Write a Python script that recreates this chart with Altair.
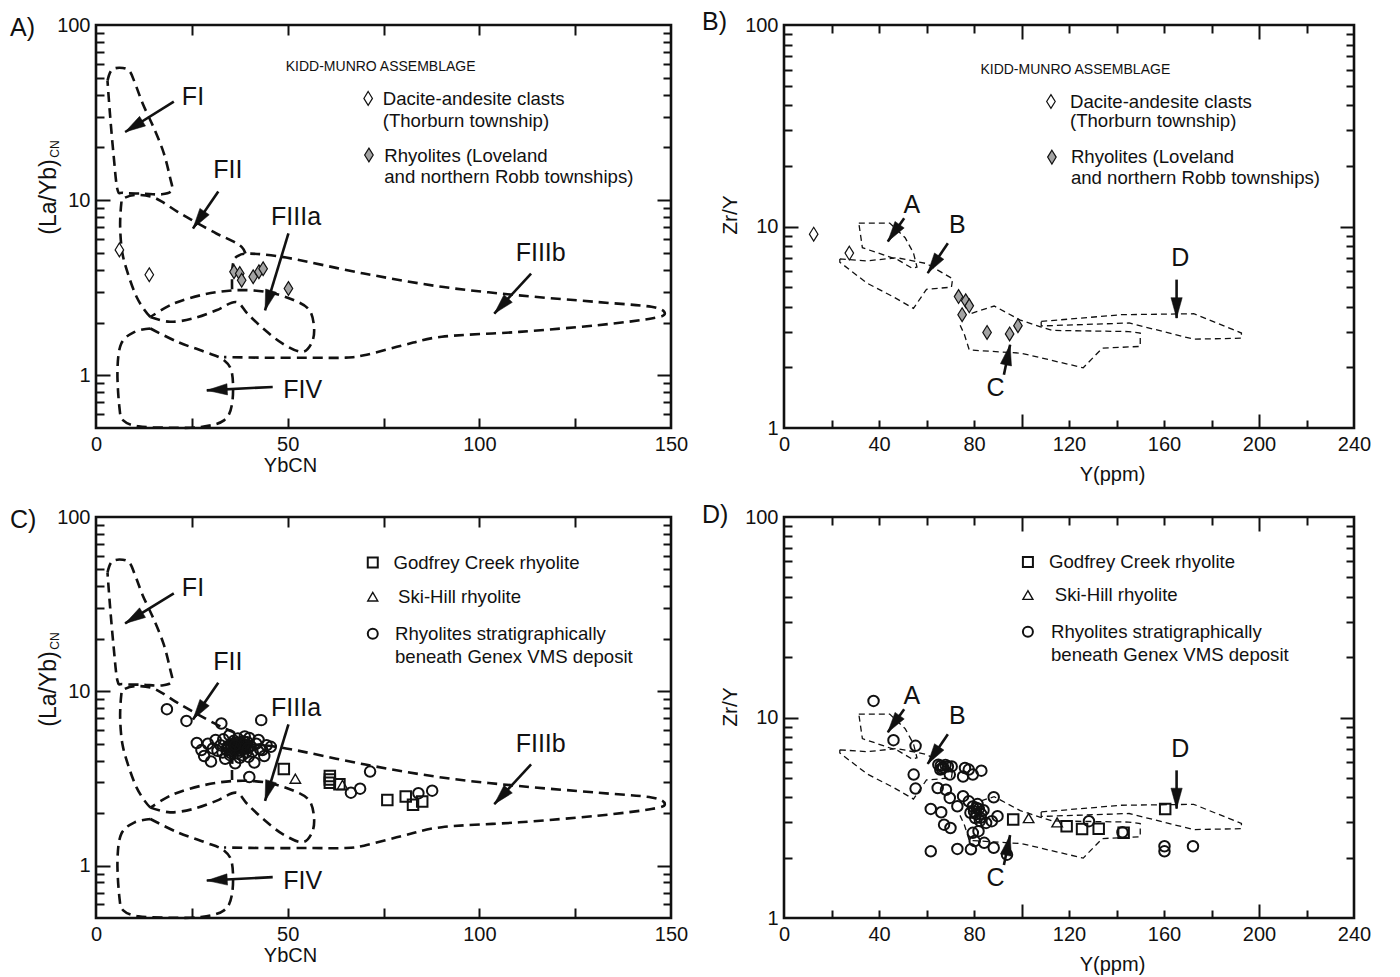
import math
import altair as alt
import pandas as pd

FONT = "Liberation Sans"
INK = "#111111"
GREY = "#a3a3a3"

# ================= DATA =================
# ---- (La/Yb)CN vs YbCN discrimination fields (panels A and C) ----
FI_X = [3.0, 4.0, 6.1, 8.6, 10.1, 12.2, 15.2, 17.7, 19.3, 19.8, 17.2, 12.2, 7.1, 5.6, 4.6, 3.7, 3.0]
FI_Y = [48, 55, 57, 55, 47, 35.5, 25.5, 18.5, 13.5, 11.4, 10.8, 10.9, 11.0, 11.5, 18, 30, 48]
FII_X = [39.0, 38.0, 35.5, 31.4, 26.3, 21.3, 17.2, 14.2, 10.1, 7.1, 6.6, 6.3, 6.9, 8.6, 10.6, 12.7, 14.2]
FII_Y = [4.96, 5.41, 5.86, 6.45, 7.42, 8.57, 9.8, 10.5, 10.7, 10.2, 9.57, 7.05, 4.96, 3.65, 2.80, 2.35, 2.15]
FIIIA_X = [14.2, 19.3, 25.3, 31.4, 36.5, 39.5, 43.6, 48.6, 53.7, 56.2, 56.9, 55.7, 51.7, 44.6, 36.5, 28.4, 20.3, 14.2]
FIIIA_Y = [2.15, 2.02, 2.11, 2.35, 2.62, 2.25, 1.85, 1.52, 1.36, 1.52, 1.85, 2.35, 2.68, 2.99, 3.06, 2.90, 2.57, 2.15]
FIIIB_X = [35.5, 35.5, 35.8, 36.8, 39.9, 49.6, 69.9, 90.2, 110.4, 130.7, 144.9, 148.4, 144.9, 130.7, 110.4,
           90.2, 80.0, 69.9, 64.8, 55.7, 44.6, 33.4]
FIIIB_Y = [3.10, 3.76, 4.40, 4.77, 4.95, 4.70, 3.81, 3.20, 2.86, 2.62, 2.46, 2.25, 2.11, 1.93, 1.77,
           1.66, 1.48, 1.30, 1.26, 1.26, 1.26, 1.27]
FIV_X = [14.2, 21.3, 28.4, 33.4, 35.5, 35.5, 33.4, 27.4, 19.3, 11.1, 7.1, 6.1, 5.6, 6.6, 10.1, 14.2]
FIV_Y = [1.85, 1.55, 1.36, 1.22, 1.02, 0.689, 0.553, 0.507, 0.502, 0.511, 0.553, 0.659, 1.07, 1.52, 1.77, 1.85]

# ---- Zr/Y vs Y fields (panels B and D) ----
FA_X = [31.5, 44.5, 51.0, 54.5, 56.0, 54.0, 48.0, 33.0, 31.5]
FA_Y = [10.4, 10.4, 8.8, 7.4, 6.3, 6.2, 6.83, 7.85, 10.4]
FB_X = [23.5, 35.0, 47.5, 60.0, 71.0, 70.5, 60.0, 54.5, 46.0, 35.0, 23.5, 23.5]
FB_Y = [6.9, 6.75, 7.0, 6.55, 5.5, 5.0, 4.88, 3.92, 4.48, 5.23, 6.65, 6.9]
FC_X = [79.0, 88.5, 99.5, 108.0, 113.0, 145.0, 150.0, 150.0, 134.0, 126.0, 100.0, 78.0, 76.0, 73.5]
FC_Y = [3.71, 4.03, 3.43, 3.18, 3.05, 3.01, 2.96, 2.54, 2.49, 1.99, 2.35, 2.44, 2.90, 3.37]
FD_X = [108.3, 142.0, 172.5, 192.6, 192.6, 172.5, 145.3, 108.3, 108.3]
FD_Y = [3.38, 3.65, 3.69, 2.96, 2.79, 2.76, 3.32, 3.21, 3.38]

# ---- arrows and field names ----
AC_ARROW_TX = [20.3, 31.9, 50.2, 113.5, 46.1]
AC_ARROW_TY = [36.5, 11.2, 6.45, 3.81, 0.858]
AC_ARROW_HX = [7.6, 25.3, 44.1, 103.9, 28.9]
AC_ARROW_HY = [24.5, 6.89, 2.35, 2.25, 0.82]
AC_NAMES = ["FI", "FII", "FIIIa", "FIIIb", "FIV"]
AC_NAME_X = [25.3, 34.4, 52.2, 116.0, 53.9]
AC_NAME_Y = [38.9, 14.8, 8.03, 4.96, 0.82]

BD_ARROW_TX = [50.6, 69.0, 92.6, 165.3]
BD_ARROW_TY = [11.0, 8.26, 1.84, 5.45]
BD_ARROW_HX = [43.7, 60.5, 95.2, 165.3]
BD_ARROW_HY = [8.43, 5.87, 2.59, 3.51]
BD_NAMES = ["A", "B", "C", "D"]
BD_NAME_X = [53.8, 73.0, 89.1, 166.9]
BD_NAME_Y = [12.8, 10.2, 1.58, 6.97]

# ---- samples, panel A (YbCN, (La/Yb)CN) ----
A_DACITE_X = [6.1, 13.9]
A_DACITE_Y = [5.2, 3.75]
A_RHYO_X = [36.0, 37.5, 38.0, 41.0, 42.5, 43.6, 50.2]
A_RHYO_Y = [3.9, 3.81, 3.49, 3.65, 3.9, 4.06, 3.13]

# ---- samples, panel B (Y ppm, Zr/Y) ----
B_DACITE_X = [12.5, 27.5]
B_DACITE_Y = [9.16, 7.38]
B_RHYO_X = [73.5, 76.5, 78.0, 75.0, 85.5, 95.0, 98.5]
B_RHYO_Y = [4.49, 4.28, 4.04, 3.65, 2.98, 2.93, 3.22]

# ---- samples, panel C ----
C_GODFREY_X = [49.0, 61.0, 61.0, 61.0, 63.5, 76.0, 80.8, 82.7, 85.1]
C_GODFREY_Y = [3.58, 3.26, 3.12, 2.99, 2.93, 2.38, 2.49, 2.23, 2.33]
C_SKIHILL_X = [52.0, 64.3]
C_SKIHILL_Y = [3.15, 2.90]
C_GENEX_X = [18.5, 23.6, 32.7, 43.1, 40.0, 71.5, 66.5, 68.9, 84.1, 87.7,
             26.3, 27.5, 28.2, 29.2, 30.0, 30.5, 31.2, 31.7, 32.5, 33.2,
             33.7, 34.0, 34.8, 35.3, 35.8, 36.3, 36.5, 37.0, 37.3, 37.8,
             38.2, 38.8, 39.0, 39.5, 39.8, 40.3, 40.8, 41.3, 41.8, 42.4,
             42.8, 43.4, 43.9, 44.5, 45.6, 36.0, 34.5, 38.5, 37.5, 35.0,
             40.0, 33.0, 36.8, 39.2,
             34.2, 35.2, 36.2, 37.2, 38.2, 39.2, 35.6, 36.6, 37.6, 38.6,
             36.9, 35.9, 37.9, 39.6, 34.9, 36.3]
C_GENEX_Y = [7.89, 6.76, 6.53, 6.83, 3.22, 3.46, 2.62, 2.76, 2.60, 2.69,
             5.05, 4.60, 4.25, 5.00, 3.95, 4.70, 5.25, 4.55, 4.90, 5.30,
             4.10, 4.60, 5.60, 4.40, 5.00, 3.86, 4.75, 5.35, 4.55, 4.90,
             4.30, 5.50, 4.70, 5.10, 4.20, 4.85, 4.50, 3.90, 5.00, 5.25,
             4.65, 4.60, 4.25, 4.90, 4.80, 5.20, 4.85, 5.15, 4.15, 4.30,
             5.40, 4.45, 4.95, 4.45,
             4.75, 4.95, 4.60, 4.85, 4.65, 4.90, 4.50, 5.05, 4.70, 4.95,
             4.40, 4.80, 5.05, 4.70, 4.60, 4.90]

# ---- samples, panel D ----
D_GODFREY_X = [96.5, 119.0, 125.5, 132.5, 143.0, 160.5]
D_GODFREY_Y = [3.10, 2.87, 2.78, 2.79, 2.66, 3.50]
D_SKIHILL_X = [103.0, 115.0]
D_SKIHILL_Y = [3.15, 3.00]
D_GENEX_X = [37.7, 46.1, 55.4, 54.6, 55.4, 65.0, 65.8, 69.0, 70.6, 69.8,
             76.2, 77.8, 75.4, 79.5, 83.1, 64.7, 68.2, 69.8, 75.4, 73.0,
             77.8, 61.8, 66.2, 67.4, 70.1, 88.3, 81.1, 82.7, 85.1, 87.5,
             89.9, 79.5, 81.9, 80.3, 84.3, 88.3, 93.9, 61.8, 73.0, 78.7,
             128.4, 142.5, 160.2, 160.2, 172.2, 80.0, 81.0, 82.0, 80.5, 83.0,
             79.5, 82.5, 81.5, 78.5, 84.0, 66.0, 67.0, 68.0, 66.5]
D_GENEX_Y = [12.1, 7.71, 7.22, 5.19, 4.42, 5.82, 5.50, 5.70, 5.70, 5.19,
             5.60, 5.50, 5.08, 5.19, 5.43, 4.45, 4.36, 3.97, 4.05, 3.61,
             3.82, 3.50, 3.37, 2.92, 2.81, 4.00, 3.54, 3.16, 2.98, 3.04,
             3.22, 2.66, 2.71, 2.42, 2.37, 2.24, 2.07, 2.15, 2.21, 2.20,
             3.04, 2.68, 2.28, 2.15, 2.28, 3.40, 3.30, 3.50, 3.15, 3.30,
             3.60, 3.05, 3.70, 3.35, 3.45, 5.75, 5.65, 5.80, 5.55]

# ---- legend texts ----
KM_TITLE = "KIDD-MUNRO ASSEMBLAGE"
KM_TEXT = ["Dacite-andesite clasts", "(Thorburn township)", "Rhyolites (Loveland", "and northern Robb townships)"]
GX_TEXT = ["Godfrey Creek rhyolite", "Ski-Hill rhyolite", "Rhyolites stratigraphically", "beneath Genex VMS deposit"]

# ---- axis tick values ----
AC_XLABELS = [0, 50, 100, 150]
AC_XTICKS = [25, 50, 75, 100, 125]
AC_YTICKS = [0.6, 0.7, 0.8, 0.9, 1, 2, 3, 4, 5, 6, 7, 8, 9, 10, 20, 30, 40, 50, 60, 70, 80, 90]
BD_XLABELS = [0, 40, 80, 120, 160, 200, 240]
BD_XTICKS = [20, 40, 60, 80, 100, 120, 140, 160, 180, 200, 220]
BD_YTICKS = [2, 3, 4, 5, 6, 7, 8, 9, 10, 20, 30, 40, 50, 60, 70, 80, 90]
Y_LABELS = [1, 10, 100]

# ================= BUILD =================
HEAD = "M0,0L0.55,2L-0.55,2Z"
DIAMOND = "M0,-1L0.62,0L0,1L-0.62,0Z"
LEG_FS = 18.6


def tick_size(majors, big, small):
    if not majors:
        return small
    test = " || ".join("datum.value == %s" % m for m in majors)
    return {"condition": {"test": test, "value": big}, "value": small}


def panel(p):
    W, H = p["W"], p["H"]
    (x0, x1), (y0, y1) = p["xdom"], p["ydom"]
    xs = alt.Scale(domain=[x0, x1], nice=False, zero=False)
    ys = alt.Scale(type="log", domain=[y0, y1], nice=False)

    xt = tick_size(p["xmajor"], 14, p["xsmall"])
    yt = tick_size(p["ymajor"], 14, 8)
    common = dict(labels=False, domain=False, grid=False, title=None, tickWidth=2, tickColor=INK)
    ax_x_b = alt.Axis(orient="top", offset=-H, values=p["xticks"], tickSize=xt, **common)
    ax_x_t = alt.Axis(orient="bottom", offset=-H, values=p["xticks"], tickSize=xt, **common)
    ax_y_l = alt.Axis(orient="right", offset=-W, values=p["yticks"], tickSize=yt, **common)
    ax_y_r = alt.Axis(orient="left", offset=-W, values=p["yticks"], tickSize=yt, **common)

    main_x = alt.Axis(orient="bottom", values=p["xlabels"], format="d", ticks=False, domain=False,
                      grid=False, labelFontSize=20, labelPadding=6, labelFlush=False,
                      title=p["xtitle"], titleFontSize=20, titleFontWeight="normal",
                      titleX=p["xtitle_x"], titleY=p["xtitle_y"], titleAlign="center",
                      titleBaseline="middle")
    main_y = alt.Axis(orient="left", values=Y_LABELS, format="d", ticks=False, domain=False,
                      grid=False, labelFontSize=20, labelPadding=6, labelFlush=False, title=None)

    X = lambda f, ax: alt.X(f, type="quantitative", scale=xs, axis=ax)
    Y = lambda f, ax: alt.Y(f, type="quantitative", scale=ys, axis=ax)

    layers = []
    rows = []
    for name, fx, fy in p["fields"]:
        for i, (a, b) in enumerate(zip(fx, fy)):
            rows.append({"f": name, "i": i, "x": a, "y": b})
    layers.append(
        alt.Chart(pd.DataFrame(rows)).mark_line(
            color=INK, strokeWidth=p["fw"], strokeDash=p["dash"], interpolate=p["interp"]
        ).encode(x=X("x", main_x), y=Y("y", main_y), detail="f:N", order="i:Q")
    )

    def to_px(x, y):
        return ((x - x0) / (x1 - x0) * W,
                H * (1 - (math.log10(y) - math.log10(y0)) / (math.log10(y1) - math.log10(y0))))

    tx, ty, hx, hy = p["arrows"]
    ang = []
    for a, b, c, d in zip(tx, ty, hx, hy):
        pa, pb = to_px(a, b)
        pc, pd_ = to_px(c, d)
        ang.append(math.degrees(math.atan2(pc - pa, -(pd_ - pb))) % 360)
    adf = pd.DataFrame({"x": tx, "y": ty, "x2": hx, "y2": hy, "ang": ang})
    layers.append(
        alt.Chart(adf).mark_rule(color=INK, strokeWidth=2.6).encode(
            x=X("x", ax_x_b), y=Y("y", ax_y_l), x2="x2:Q", y2="y2:Q")
    )
    layers.append(
        alt.Chart(adf).mark_point(shape=HEAD, size=p["head"], filled=True, fill=INK, stroke=INK,
                                  strokeWidth=0.5, opacity=1).encode(
            x=X("x2", ax_x_t), y=Y("y2", ax_y_r), angle=alt.Angle("ang:Q", scale=None))
    )

    nx, ny, nt = p["names"]
    layers.append(
        alt.Chart(pd.DataFrame({"x": nx, "y": ny, "t": nt})).mark_text(
            font=FONT, fontSize=p["name_size"], color=INK).encode(
            x=X("x", None), y=Y("y", None), text="t:N")
    )

    for sx, sy, shape, size, fill, sw in p["series"]:
        kw = dict(shape=shape, size=size, stroke=INK, strokeWidth=sw, opacity=1)
        if fill:
            kw.update(filled=True, fill=fill)
        else:
            kw.update(filled=False)
        layers.append(
            alt.Chart(pd.DataFrame({"x": sx, "y": sy})).mark_point(**kw).encode(
                x=X("x", None), y=Y("y", None))
        )

    # legend text
    lt, lx, ly, lsz = p["legend_text"]
    layers.append(
        alt.Chart(pd.DataFrame({"t": lt, "x": lx, "y": ly, "s": lsz})).mark_text(
            font=FONT, align="left", baseline="middle", color=INK).encode(
            x=X("x", None), y=Y("y", None), text="t:N", size=alt.Size("s:Q", scale=None))
    )

    # panel letter and rotated y-axis title (pixel offsets from plot origin)
    layers.append(
        alt.Chart(pd.DataFrame({"t": [p["letter"]]})).mark_text(
            font=FONT, fontSize=25, align="left", baseline="middle", color=INK).encode(
            text="t:N", x=alt.value(p["letter_pos"][0]), y=alt.value(p["letter_pos"][1]))
    )
    for t, dx, dy, fs in p["ytitle"]:
        layers.append(
            alt.Chart(pd.DataFrame({"t": [t]})).mark_text(
                font=FONT, fontSize=fs, angle=270, align="center", baseline="middle", color=INK).encode(
                text="t:N", x=alt.value(dx), y=alt.value(dy))
        )

    return alt.layer(*layers).resolve_axis(x="independent", y="independent").properties(width=W, height=H)


AC_FIELDS = [("FI", FI_X, FI_Y), ("FII", FII_X, FII_Y), ("FIIIa", FIIIA_X, FIIIA_Y),
             ("FIIIb", FIIIB_X, FIIIB_Y), ("FIV", FIV_X, FIV_Y)]
BD_FIELDS = [("A", FA_X, FA_Y), ("B", FB_X, FB_Y), ("C", FC_X, FC_Y), ("D", FD_X, FD_Y)]

base_AC = dict(xdom=[0, 150], ydom=[0.5, 100], xticks=AC_XTICKS, xmajor=[], xsmall=10,
               yticks=AC_YTICKS, ymajor=[1, 10], xlabels=AC_XLABELS, xtitle="YbCN",
               xtitle_x=194, xtitle_y=37, fields=AC_FIELDS, fw=2.6, dash=[10, 6], interp="cardinal",
               arrows=(AC_ARROW_TX, AC_ARROW_TY, AC_ARROW_HX, AC_ARROW_HY), head=420,
               names=(AC_NAME_X, AC_NAME_Y, AC_NAMES), name_size=25,
               ytitle=[("(La/Yb)", -47, 172, 23), ("CN", -41, 124, 12)])
base_BD = dict(xdom=[0, 240], ydom=[1, 100], xticks=BD_XTICKS, xmajor=[100, 200], xsmall=8,
               yticks=BD_YTICKS, ymajor=[10], xlabels=BD_XLABELS, xtitle="Y(ppm)",
               xtitle_x=328, xtitle_y=46, fields=BD_FIELDS, fw=1.3, dash=[6, 4], interp="linear",
               arrows=(BD_ARROW_TX, BD_ARROW_TY, BD_ARROW_HX, BD_ARROW_HY), head=420,
               names=(BD_NAME_X, BD_NAME_Y, BD_NAMES), name_size=25,
               ytitle=[("Zr/Y", -53, 190, 21)])

pA = panel(dict(base_AC, W=575, H=403, letter="A)", letter_pos=(-86, 3),
                series=[(A_DACITE_X, A_DACITE_Y, DIAMOND, 190, "white", 1.2),
                        (A_RHYO_X, A_RHYO_Y, DIAMOND, 190, GREY, 1.2),
                        ([71.0], [38.1], DIAMOND, 190, "white", 1.2),
                        ([71.2], [18.1], DIAMOND, 190, GREY, 1.2)],
                legend_text=([KM_TITLE] + KM_TEXT, [49.5, 74.8, 74.8, 75.2, 75.2],
                             [57.8, 37.6, 28.4, 17.8, 13.5], [14, LEG_FS, LEG_FS, LEG_FS, LEG_FS])))
pB = panel(dict(base_BD, W=570, H=403, letter="B)", letter_pos=(-82, -3),
                series=[(B_DACITE_X, B_DACITE_Y, DIAMOND, 190, "white", 1.2),
                        (B_RHYO_X, B_RHYO_Y, DIAMOND, 190, GREY, 1.2),
                        ([112.4], [41.7], DIAMOND, 190, "white", 1.2),
                        ([112.8], [22.1], DIAMOND, 190, GREY, 1.2)],
                legend_text=([KM_TITLE] + KM_TEXT, [82.7, 120.4, 120.4, 120.8, 120.8],
                             [59.8, 41.7, 33.2, 22.1, 17.4], [14, LEG_FS, LEG_FS, LEG_FS, LEG_FS])))
pC = panel(dict(base_AC, W=575, H=401, letter="C)", letter_pos=(-86, 3),
                series=[(C_GENEX_X, C_GENEX_Y, "circle", 110, None, 2),
                        (C_GODFREY_X, C_GODFREY_Y, "square", 110, None, 2),
                        (C_SKIHILL_X, C_SKIHILL_Y, "triangle-up", 110, None, 1.4),
                        ([72.2], [54.8], "square", 100, None, 2),
                        ([72.2], [34.9], "triangle-up", 100, None, 1.4),
                        ([72.2], [21.4], "circle", 100, None, 2)],
                legend_text=(GX_TEXT, [77.6, 78.8, 78.0, 78.0], [54.8, 34.9, 21.4, 15.7],
                             [LEG_FS] * 4)))
pD = panel(dict(base_BD, W=570, H=401, letter="D)", letter_pos=(-82, -2),
                series=[(D_GENEX_X, D_GENEX_Y, "circle", 110, None, 2),
                        (D_GODFREY_X, D_GODFREY_Y, "square", 110, None, 2),
                        (D_SKIHILL_X, D_SKIHILL_Y, "triangle-up", 110, None, 1.4),
                        ([102.7], [59.7], "square", 100, None, 2),
                        ([102.7], [40.8], "triangle-up", 100, None, 1.4),
                        ([102.7], [26.8], "circle", 100, None, 2)],
                legend_text=(GX_TEXT, [111.6, 114.0, 112.4, 112.4], [59.7, 40.8, 26.8, 20.5],
                             [LEG_FS] * 4)))

chart = alt.concat(pA, pB, pC, pD, columns=2, spacing={"row": 89, "column": 113},
                   bounds="flush").properties(
    padding={"left": 0, "top": 0, "right": 5, "bottom": 5}
).configure_view(stroke=INK, strokeWidth=2.6).configure_axis(
    labelFont=FONT, titleFont=FONT, labelColor=INK, titleColor=INK
).configure_text(font=FONT)

chart.save("out.html", embed_options={"renderer": "svg", "actions": False})
